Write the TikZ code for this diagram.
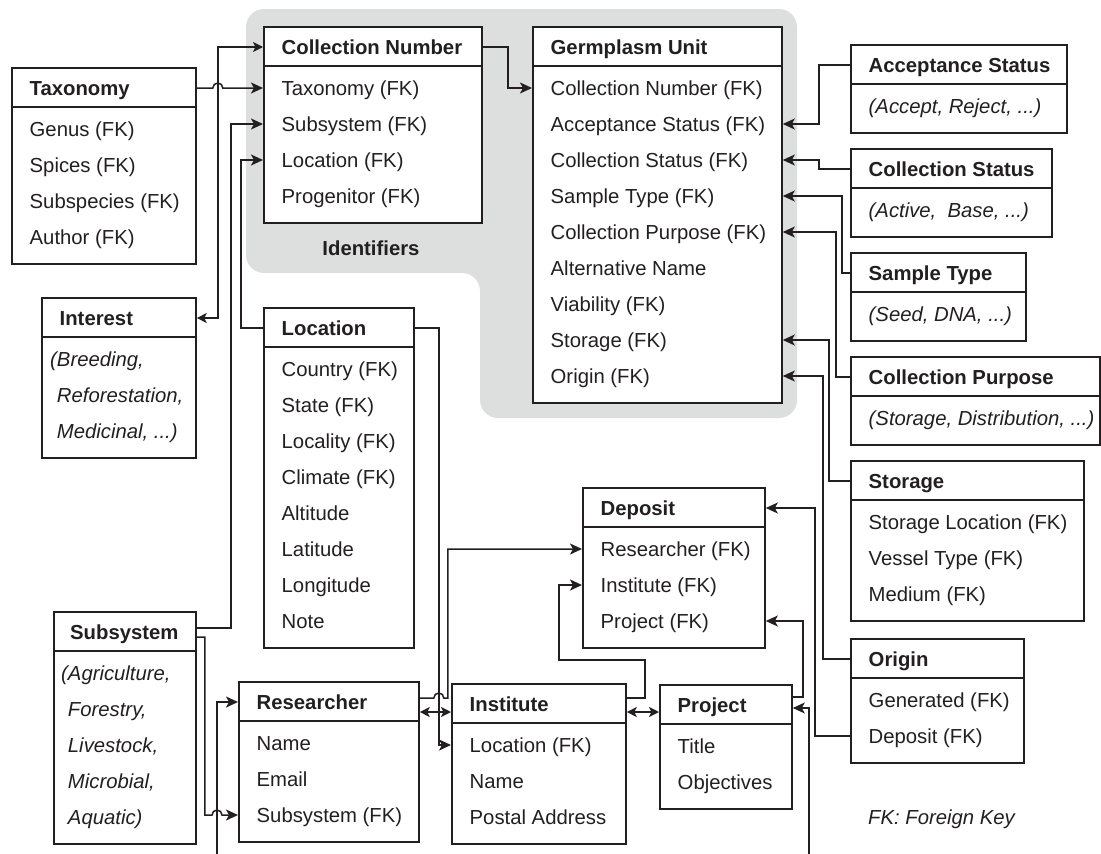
\documentclass[tikz,border=0pt]{standalone}
\usepackage{fontspec}
\setmainfont{Liberation Sans}
\usetikzlibrary{arrows.meta}
\definecolor{ink}{RGB}{35,31,32}
\definecolor{idgray}{RGB}{221,222,222}
\tikzset{
  tbl/.style={draw=ink,line width=1.8pt,fill=white,anchor=north west,inner sep=0pt},
  sep/.style={ink,line width=1.8pt},
  fld/.style={anchor=west,inner xsep=18.5pt,inner ysep=0pt,text height=19.3pt,text depth=4.7pt,
              text=ink,font=\fontsize{20.3}{24}\selectfont},
  hdr/.style={fld,font=\fontsize{20.3}{24}\selectfont\bfseries},
  fldit/.style={fld,font=\fontsize{20.3}{24}\selectfont\itshape},
  link/.style={ink,line width=1.5pt,-{Stealth[length=12pt,width=11pt,inset=3pt]}},
  twoway/.style={ink,line width=1.5pt,
                 {Stealth[length=10pt,width=10pt,inset=2.5pt]}-{Stealth[length=10pt,width=10pt,inset=2.5pt]}},
}

\begin{document}
\begin{tikzpicture}[x=1pt,y=-1pt]
  \useasboundingbox (0,0) rectangle (1101,854);

  % identifiers area
  \fill[idgray,rounded corners=18pt] (246,9) -- (797,9) -- (797,418) -- (480,418)
    -- (480,273) -- (246,273) -- cycle;
  \node[text=ink,font=\fontsize{20.3}{24}\selectfont\bfseries] (idlabel) at (371,248) {Identifiers};

  % Taxonomy
  \node[tbl,minimum width=184pt,minimum height=196pt] (tax) at (11,67) {};
  \draw[sep] ([yshift=-40pt]tax.north west) -- ([yshift=-40pt]tax.north east);
  \node[hdr] (tax-h) at ([yshift=-21pt]tax.north west) {Taxonomy};
  \foreach \t [count=\i] in {Genus (FK),Spices (FK),Subspecies (FK),Author (FK)}
    \node[fld] (tax-\i) at ([yshift={-26pt-36pt*\i}]tax.north west) {\t};

  % Collection Number
  \node[tbl,minimum width=218pt,minimum height=196pt] (cnum) at (263,26) {};
  \draw[sep] ([yshift=-40pt]cnum.north west) -- ([yshift=-40pt]cnum.north east);
  \node[hdr] (cnum-h) at ([yshift=-21pt]cnum.north west) {Collection Number};
  \foreach \t [count=\i] in {Taxonomy (FK),Subsystem (FK),Location (FK),Progenitor (FK)}
    \node[fld] (cnum-\i) at ([yshift={-26pt-36pt*\i}]cnum.north west) {\t};

  % Germplasm Unit
  \node[tbl,minimum width=249pt,minimum height=376pt] (gu) at (532,26) {};
  \draw[sep] ([yshift=-40pt]gu.north west) -- ([yshift=-40pt]gu.north east);
  \node[hdr] (gu-h) at ([yshift=-21pt]gu.north west) {Germplasm Unit};
  \foreach \t [count=\i] in {Collection Number (FK),Acceptance Status (FK),Collection Status (FK),
      Sample Type (FK),Collection Purpose (FK),Alternative Name,Viability (FK),Storage (FK),Origin (FK)}
    \node[fld] (gu-\i) at ([yshift={-26pt-36pt*\i}]gu.north west) {\t};

  % value lists on the right
  \node[tbl,minimum width=216pt,minimum height=88pt] (acc) at (850,44) {};
  \draw[sep] ([yshift=-40pt]acc.north west) -- ([yshift=-40pt]acc.north east);
  \node[hdr] (acc-h) at ([yshift=-21pt]acc.north west) {Acceptance Status};
  \node[fldit] (acc-1) at ([yshift=-62pt]acc.north west) {(Accept, Reject, ...)};

  \node[tbl,minimum width=201pt,minimum height=88pt] (cst) at (850,148) {};
  \draw[sep] ([yshift=-40pt]cst.north west) -- ([yshift=-40pt]cst.north east);
  \node[hdr] (cst-h) at ([yshift=-21pt]cst.north west) {Collection Status};
  \node[fldit] (cst-1) at ([yshift=-62pt]cst.north west) {(Active,~ Base, ...)};

  \node[tbl,minimum width=175pt,minimum height=88pt] (stype) at (850,252) {};
  \draw[sep] ([yshift=-40pt]stype.north west) -- ([yshift=-40pt]stype.north east);
  \node[hdr] (stype-h) at ([yshift=-21pt]stype.north west) {Sample Type};
  \node[fldit] (stype-1) at ([yshift=-62pt]stype.north west) {(Seed, DNA, ...)};

  \node[tbl,minimum width=249pt,minimum height=88pt] (cpur) at (850,356) {};
  \draw[sep] ([yshift=-40pt]cpur.north west) -- ([yshift=-40pt]cpur.north east);
  \node[hdr] (cpur-h) at ([yshift=-21pt]cpur.north west) {Collection Purpose};
  \node[fldit] (cpur-1) at ([yshift=-62pt]cpur.north west) {(Storage, Distribution, ...)};

  % Interest
  \node[tbl,minimum width=154pt,minimum height=160pt] (intr) at (41,297) {};
  \draw[sep] ([yshift=-40pt]intr.north west) -- ([yshift=-40pt]intr.north east);
  \node[hdr] (intr-h) at ([yshift=-21pt]intr.north west) {Interest};
  \foreach \t [count=\i] in {{(Breeding,},{\phantom{(}Reforestation,},{\phantom{(}Medicinal, .{}.{}.)}}
    \node[fldit,inner xsep=9pt] (intr-\i) at ([yshift={-26pt-36pt*\i}]intr.north west) {\t};

  % Location
  \node[tbl,minimum width=150pt,minimum height=340pt] (loc) at (263,307) {};
  \draw[sep] ([yshift=-40pt]loc.north west) -- ([yshift=-40pt]loc.north east);
  \node[hdr] (loc-h) at ([yshift=-21pt]loc.north west) {Location};
  \foreach \t [count=\i] in {Country (FK),State (FK),Locality (FK),Climate (FK),Altitude,Latitude,Longitude,Note}
    \node[fld] (loc-\i) at ([yshift={-26pt-36pt*\i}]loc.north west) {\t};

  % Storage
  \node[tbl,minimum width=233pt,minimum height=160pt] (stor) at (850,460) {};
  \draw[sep] ([yshift=-40pt]stor.north west) -- ([yshift=-40pt]stor.north east);
  \node[hdr] (stor-h) at ([yshift=-21pt]stor.north west) {Storage};
  \foreach \t [count=\i] in {Storage Location (FK),Vessel Type (FK),Medium (FK)}
    \node[fld] (stor-\i) at ([yshift={-26pt-36pt*\i}]stor.north west) {\t};

  % Deposit
  \node[tbl,minimum width=182pt,minimum height=160pt] (dep) at (582,487) {};
  \draw[sep] ([yshift=-40pt]dep.north west) -- ([yshift=-40pt]dep.north east);
  \node[hdr] (dep-h) at ([yshift=-21pt]dep.north west) {Deposit};
  \foreach \t [count=\i] in {Researcher (FK),Institute (FK),Project (FK)}
    \node[fld] (dep-\i) at ([yshift={-26pt-36pt*\i}]dep.north west) {\t};

  % Origin
  \node[tbl,minimum width=173pt,minimum height=124pt] (orig) at (850,638) {};
  \draw[sep] ([yshift=-40pt]orig.north west) -- ([yshift=-40pt]orig.north east);
  \node[hdr] (orig-h) at ([yshift=-21pt]orig.north west) {Origin};
  \foreach \t [count=\i] in {Generated (FK),Deposit (FK)}
    \node[fld] (orig-\i) at ([yshift={-26pt-36pt*\i}]orig.north west) {\t};

  % Subsystem
  \node[tbl,minimum width=142pt,minimum height=232pt] (subs) at (53,611) {};
  \draw[sep] ([yshift=-40pt]subs.north west) -- ([yshift=-40pt]subs.north east);
  \node[hdr,inner xsep=17pt] (subs-h) at ([yshift=-21pt]subs.north west) {Subsystem};
  \foreach \t [count=\i] in {{(Agriculture,},{\phantom{(}Forestry,},{\phantom{(}Livestock,},
      {\phantom{(}Microbial,},{\phantom{(}Aquatic)}}
    \node[fldit,inner xsep=8pt] (subs-\i) at ([yshift={-26pt-36pt*\i}]subs.north west) {\t};

  % Researcher, Institute, Project
  \node[tbl,minimum width=180pt,minimum height=160pt] (res) at (238,681) {};
  \draw[sep] ([yshift=-40pt]res.north west) -- ([yshift=-40pt]res.north east);
  \node[hdr] (res-h) at ([yshift=-21pt]res.north west) {Researcher};
  \foreach \t [count=\i] in {Name,Email,Subsystem (FK)}
    \node[fld] (res-\i) at ([yshift={-26pt-36pt*\i}]res.north west) {\t};

  \node[tbl,minimum width=174pt,minimum height=160pt] (inst) at (451,683) {};
  \draw[sep] ([yshift=-40pt]inst.north west) -- ([yshift=-40pt]inst.north east);
  \node[hdr] (inst-h) at ([yshift=-21pt]inst.north west) {Institute};
  \foreach \t [count=\i] in {Location (FK),Name,Postal Address}
    \node[fld] (inst-\i) at ([yshift={-26pt-36pt*\i}]inst.north west) {\t};

  \node[tbl,minimum width=132pt,minimum height=124pt] (proj) at (659,684) {};
  \draw[sep] ([yshift=-40pt]proj.north west) -- ([yshift=-40pt]proj.north east);
  \node[hdr] (proj-h) at ([yshift=-21pt]proj.north west) {Project};
  \foreach \t [count=\i] in {Title,Objectives}
    \node[fld] (proj-\i) at ([yshift={-26pt-36pt*\i}]proj.north west) {\t};

  \node[fldit,inner xsep=0pt] (fknote) at (868,817) {FK: Foreign Key};

  % lines entering from below the frame
  \coordinate (offres) at (217,854);
  \coordinate (offproj) at (809,854);

  % connectors
  \draw[link] (cnum-h -| cnum.east) -- ++(25,0) |- (gu-1 -| gu.west);
  \draw[link] (tax-h -| tax.east) -- ++(16,0) arc[start angle=180,end angle=0,radius=5pt]
    -- (cnum-1 -| cnum.west);
  \draw[twoway] (intr-h -| intr.east) -- ++(21,0) |- (cnum-h -| cnum.west);
  \draw[link] ([yshift=4pt]subs-h -| subs.east) -- ++(34,0) |- (cnum-2 -| cnum.west);
  \draw[link] (loc-h -| loc.west) -- ++(-22,0) |- (cnum-3 -| cnum.west);
  \draw[link] ([yshift=-5pt]subs-h -| subs.east) -- ++(8,0) |- ([xshift=-5pt]offres |- res-3)
    arc[start angle=180,end angle=0,radius=5pt] -- (res-3 -| res.west);
  \draw[link] (offres) |- (res-h -| res.west);
  \draw[link] (loc-h -| loc.east) -- ++(24,0) |- (inst-1 -| inst.west);
  \draw[link] ([yshift=4pt]res-h -| res.east) -- ++(14,0) arc[start angle=180,end angle=0,radius=5pt]
    -- ++(4,0) |- (dep-1 -| dep.west);
  \draw[twoway] ([yshift=-10pt]res-h -| res.east) -- ([yshift=-10pt]res-h -| inst.west);
  \draw[link] ([yshift=6pt]inst-h -| inst.east) -- ++(18,0) -- ++(0,-38) -- ++(-86,0)
    |- (dep-2 -| dep.west);
  \draw[twoway] ([yshift=-8pt]inst-h -| inst.east) -- ([yshift=-8pt]inst-h -| proj.west);
  \draw[link] ([yshift=8pt]proj-h -| proj.east) -- ++(10,0) |- (dep-3 -| dep.east);
  \draw[link] (offproj) |- ([yshift=-3pt]proj-h -| proj.east);
  \draw[link] (orig-2 -| orig.west) -- ++(-35,0) |- (dep-h -| dep.east);
  \draw[link] (orig-h -| orig.west) -- ++(-27,0) |- (gu-9 -| gu.east);
  \draw[link] (stor-h -| stor.west) -- ++(-21,0) |- (gu-8 -| gu.east);
  \draw[link] (cpur-h -| cpur.west) -- ++(-14,0) |- (gu-5 -| gu.east);
  \draw[link] (stype-h -| stype.west) -- ++(-8,0) |- (gu-4 -| gu.east);
  \draw[link] (cst-h -| cst.west) -- ++(-31,0) |- (gu-3 -| gu.east);
  \draw[link] (acc-h -| acc.west) -- ++(-31,0) |- (gu-2 -| gu.east);
\end{tikzpicture}
\end{document}
